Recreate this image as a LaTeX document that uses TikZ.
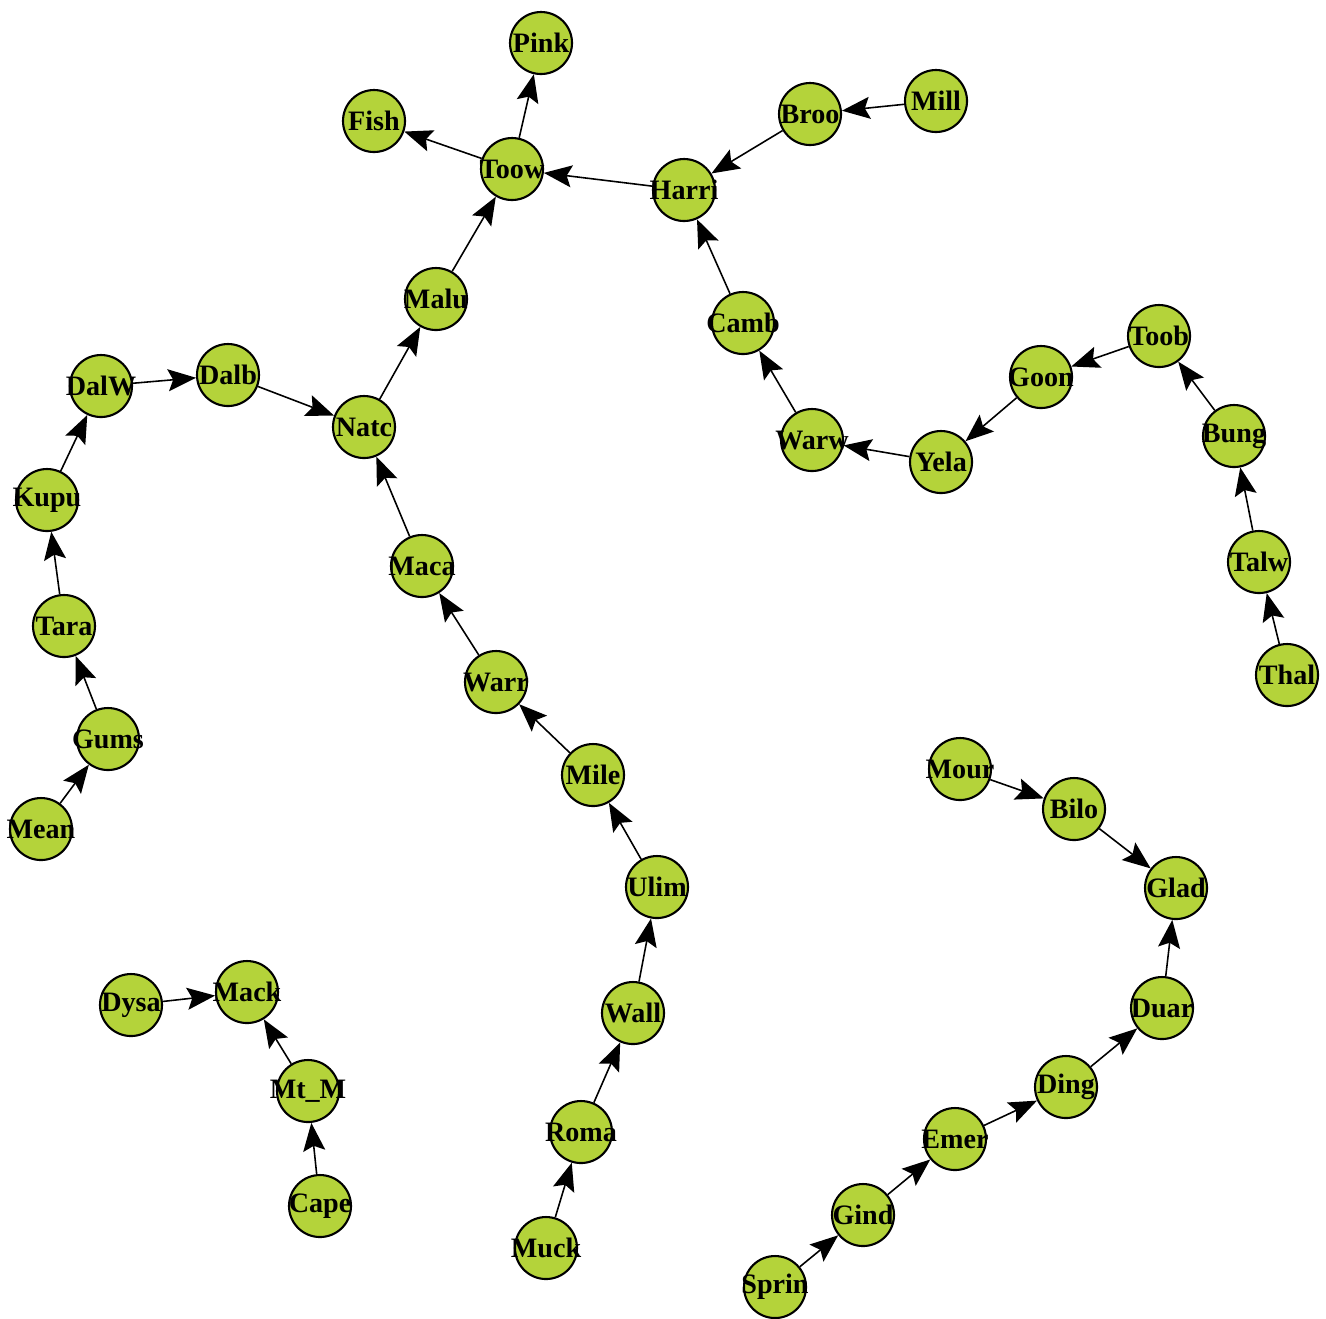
\documentclass[tikz,border=0pt]{standalone}
\usepackage{fontspec}
\setmainfont{Liberation Serif}
\usetikzlibrary{arrows.meta}
\definecolor{stnfill}{HTML}{B4D33A}
\newcommand{\stnlbl}[1]{\makebox[0pt]{#1}}
\begin{document}
\begin{tikzpicture}[every node/.style={align=center}]
\tikzset{
  stn/.style={draw, circle, line width=0.6pt, fill=stnfill, minimum size=0.62cm, inner sep=0pt, font=\fontsize{8}{9}\selectfont\bfseries},
  lnk/.style={line width=0.45pt, -{Stealth[length=2.8mm, width=2.2mm, inset=0.5mm]}}
}
\useasboundingbox (0,0) rectangle (13.26,-13.18);
\node[stn] (pink) at (5.41,-0.43) {\stnlbl{Pink}};
\node[stn] (fish) at (3.74,-1.21) {\stnlbl{Fish}};
\node[stn] (toow) at (5.12,-1.69) {\stnlbl{Toow}};
\node[stn] (broo) at (8.10,-1.14) {\stnlbl{Broo}};
\node[stn] (mill) at (9.36,-1.01) {\stnlbl{Mill}};
\node[stn] (harri) at (6.84,-1.90) {\stnlbl{Harri}};
\node[stn] (malu) at (4.36,-2.99) {\stnlbl{Malu}};
\node[stn] (camb) at (7.43,-3.23) {\stnlbl{Camb}};
\node[stn] (toob) at (11.59,-3.36) {\stnlbl{Toob}};
\node[stn] (goon) at (10.41,-3.77) {\stnlbl{Goon}};
\node[stn] (dalw) at (1.01,-3.86) {\stnlbl{DalW}};
\node[stn] (dalb) at (2.28,-3.75) {\stnlbl{Dalb}};
\node[stn] (natc) at (3.64,-4.27) {\stnlbl{Natc}};
\node[stn] (warw) at (8.12,-4.40) {\stnlbl{Warw}};
\node[stn] (yela) at (9.41,-4.62) {\stnlbl{Yela}};
\node[stn] (bung) at (12.34,-4.36) {\stnlbl{Bung}};
\node[stn] (kupu) at (0.47,-5.00) {\stnlbl{Kupu}};
\node[stn] (maca) at (4.22,-5.66) {\stnlbl{Maca}};
\node[stn] (talw) at (12.59,-5.62) {\stnlbl{Talw}};
\node[stn] (tara) at (0.64,-6.26) {\stnlbl{Tara}};
\node[stn] (warr) at (4.96,-6.82) {\stnlbl{Warr}};
\node[stn] (thal) at (12.87,-6.75) {\stnlbl{Thal}};
\node[stn] (gums) at (1.08,-7.39) {\stnlbl{Gums}};
\node[stn] (mile) at (5.93,-7.75) {\stnlbl{Mile}};
\node[stn] (mour) at (9.60,-7.69) {\stnlbl{Mour}};
\node[stn] (bilo) at (10.74,-8.09) {\stnlbl{Bilo}};
\node[stn] (mean) at (0.41,-8.29) {\stnlbl{Mean}};
\node[stn] (ulim) at (6.57,-8.87) {\stnlbl{Ulim}};
\node[stn] (glad) at (11.76,-8.88) {\stnlbl{Glad}};
\node[stn] (dysa) at (1.31,-10.05) {\stnlbl{Dysa}};
\node[stn] (mack) at (2.47,-9.92) {\stnlbl{Mack}};
\node[stn] (wall) at (6.33,-10.13) {\stnlbl{Wall}};
\node[stn] (duar) at (11.62,-10.08) {\stnlbl{Duar}};
\node[stn] (mtm) at (3.08,-10.91) {\stnlbl{Mt\_M}};
\node[stn] (ding) at (10.66,-10.87) {\stnlbl{Ding}};
\node[stn] (roma) at (5.81,-11.32) {\stnlbl{Roma}};
\node[stn] (emer) at (9.55,-11.39) {\stnlbl{Emer}};
\node[stn] (cape) at (3.20,-12.06) {\stnlbl{Cape}};
\node[stn] (gind) at (8.63,-12.15) {\stnlbl{Gind}};
\node[stn] (muck) at (5.46,-12.48) {\stnlbl{Muck}};
\node[stn] (sprin) at (7.75,-12.87) {\stnlbl{Sprin}};

% links
\draw[lnk] (toow) -- (pink);
\draw[lnk] (toow) -- (fish);
\draw[lnk] (harri) -- (toow);
\draw[lnk] (broo) -- (harri);
\draw[lnk] (mill) -- (broo);
\draw[lnk] (camb) -- (harri);
\draw[lnk] (warw) -- (camb);
\draw[lnk] (yela) -- (warw);
\draw[lnk] (goon) -- (yela);
\draw[lnk] (toob) -- (goon);
\draw[lnk] (bung) -- (toob);
\draw[lnk] (talw) -- (bung);
\draw[lnk] (thal) -- (talw);
\draw[lnk] (malu) -- (toow);
\draw[lnk] (natc) -- (malu);
\draw[lnk] (dalb) -- (natc);
\draw[lnk] (dalw) -- (dalb);
\draw[lnk] (kupu) -- (dalw);
\draw[lnk] (tara) -- (kupu);
\draw[lnk] (gums) -- (tara);
\draw[lnk] (mean) -- (gums);
\draw[lnk] (maca) -- (natc);
\draw[lnk] (warr) -- (maca);
\draw[lnk] (mile) -- (warr);
\draw[lnk] (ulim) -- (mile);
\draw[lnk] (wall) -- (ulim);
\draw[lnk] (roma) -- (wall);
\draw[lnk] (muck) -- (roma);
\draw[lnk] (dysa) -- (mack);
\draw[lnk] (mtm) -- (mack);
\draw[lnk] (cape) -- (mtm);
\draw[lnk] (mour) -- (bilo);
\draw[lnk] (bilo) -- (glad);
\draw[lnk] (duar) -- (glad);
\draw[lnk] (ding) -- (duar);
\draw[lnk] (emer) -- (ding);
\draw[lnk] (gind) -- (emer);
\draw[lnk] (sprin) -- (gind);
\end{tikzpicture}
\end{document}
